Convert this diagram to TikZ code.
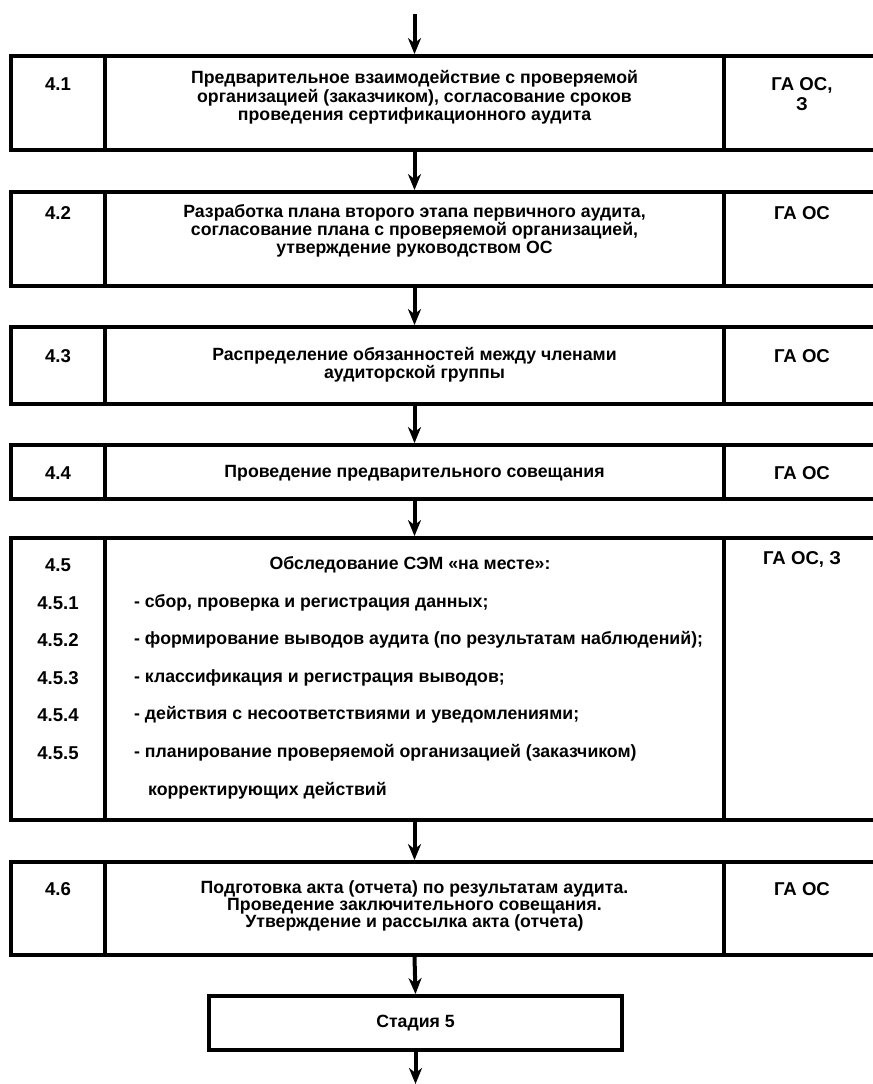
\documentclass[tikz,border=0pt]{standalone}
\usepackage{fontspec}
\setmainfont{Liberation Sans}
\usetikzlibrary{arrows.meta}
\begin{document}
\begin{tikzpicture}[x=1bp,y=-1bp,
  cell/.style={draw, line width=3.8bp, inner sep=0pt},
  txt/.style={inner sep=0pt, align=center, font=\fontsize{17.7bp}{#1}\selectfont\bfseries},
  txt/.default={18bp},
  lab/.style={inner sep=0pt, align=center, font=\fontsize{18.6bp}{#1}\selectfont\bfseries},
  lab/.default={18bp},
  arr/.style={line width=4bp, -{Stealth[length=16bp,width=13bp,inset=5bp]}}]
\useasboundingbox (0,0) rectangle (873,1084);
\clip (0,0) rectangle (873,1084);
% row 4.1
\node[cell, minimum width=94bp, minimum height=94bp] (n41) at (58,103) {};
\node[cell, minimum width=619bp, minimum height=94bp] (m41) at (414.5,103) {};
\node[cell, minimum width=166bp, minimum height=94bp] (r41) at (807,103) {};
% row 4.2
\node[cell, minimum width=94bp, minimum height=94bp] (n42) at (58,239) {};
\node[cell, minimum width=619bp, minimum height=94bp] (m42) at (414.5,239) {};
\node[cell, minimum width=166bp, minimum height=94bp] (r42) at (807,239) {};
% row 4.3
\node[cell, minimum width=94bp, minimum height=77bp] (n43) at (58,365.5) {};
\node[cell, minimum width=619bp, minimum height=77bp] (m43) at (414.5,365.5) {};
\node[cell, minimum width=166bp, minimum height=77bp] (r43) at (807,365.5) {};
% row 4.4
\node[cell, minimum width=94bp, minimum height=54bp] (n44) at (58,472) {};
\node[cell, minimum width=619bp, minimum height=54bp] (m44) at (414.5,472) {};
\node[cell, minimum width=166bp, minimum height=54bp] (r44) at (807,472) {};
% row 4.5
\node[cell, minimum width=94bp, minimum height=282bp] (n45) at (58,679) {};
\node[cell, minimum width=619bp, minimum height=282bp] (m45) at (414.5,679) {};
\node[cell, minimum width=166bp, minimum height=282bp] (r45) at (807,679) {};
% row 4.6
\node[cell, minimum width=94bp, minimum height=93bp] (n46) at (58,908.5) {};
\node[cell, minimum width=619bp, minimum height=93bp] (m46) at (414.5,908.5) {};
\node[cell, minimum width=166bp, minimum height=93bp] (r46) at (807,908.5) {};
% stage 5
\node[cell, minimum width=413bp, minimum height=54bp, txt] (st) at (415.5,1023) {Стадия 5};

% texts row 4.1
\node[lab] (tn41) at (58,84) {4.1};
\node[txt=18.5bp] (tm41) at (414.5,97.5) {Предварительное взаимодействие с проверяемой\\организацией (заказчиком), согласование сроков\\проведения сертификационного аудита};
\node[lab=20bp] (tr41) at (802,94) {ГА ОС,\\З};
% row 4.2
\node[lab] (tn42) at (58,213) {4.2};
\node[txt] (tm42) at (414.5,231) {Разработка плана второго этапа первичного аудита,\\согласование плана с проверяемой организацией,\\утверждение руководством ОС};
\node[lab] (tr42) at (802,213) {ГА ОС};
% row 4.3
\node[lab] (tn43) at (58,356) {4.3};
\node[txt] (tm43) at (414.5,365) {Распределение обязанностей между членами\\аудиторской группы};
\node[lab] (tr43) at (802,356) {ГА ОС};
% row 4.4
\node[lab] (tn44) at (58,473) {4.4};
\node[txt] (tm44) at (414.5,473) {Проведение предварительного совещания};
\node[lab] (tr44) at (802,473) {ГА ОС};
% row 4.5
\node[lab] (tn45) at (58,565) {4.5};
\node[txt] (tm45) at (410,565) {Обследование СЭМ «на месте»:};
\node[lab] (tr45) at (802,559) {ГА ОС, З};
\node[lab] (tn451) at (58,603) {4.5.1};
\node[lab] (tn452) at (58,640) {4.5.2};
\node[lab] (tn453) at (58,678) {4.5.3};
\node[lab] (tn454) at (58,715) {4.5.4};
\node[lab] (tn455) at (58,753) {4.5.5};
\node[txt, anchor=west] (ti1) at (134,603) {- сбор, проверка и регистрация данных;};
\node[txt, anchor=west] (ti2) at (134,640) {- формирование выводов аудита (по результатам наблюдений);};
\node[txt, anchor=west] (ti3) at (134,678) {- классификация и регистрация выводов;};
\node[txt, anchor=west] (ti4) at (134,715) {- действия с несоответствиями и уведомлениями;};
\node[txt, anchor=west] (ti5) at (134,753) {- планирование проверяемой организацией (заказчиком)};
\node[txt, anchor=west] (ti6) at (148,791) {корректирующих действий};
% row 4.6
\node[lab] (tn46) at (58,889) {4.6};
\node[txt=17bp] (tm46) at (414.5,906) {Подготовка акта (отчета) по результатам аудита.\\Проведение заключительного совещания.\\Утверждение и рассылка акта (отчета)};
\node[lab] (tr46) at (802,889) {ГА ОС};

% arrows
\coordinate (top) at (414.5,14);
\coordinate (bot) at (415.5,1084);
\draw[arr] (top) -- (m41.north);
\draw[arr] (m41.south) -- (m42.north);
\draw[arr] (m42.south) -- (m43.north);
\draw[arr] (m43.south) -- (m44.north);
\draw[arr] (m44.south) -- (m45.north);
\draw[arr] (m45.south) -- (m46.north);
\draw[arr] (m46.south) -- (st.north);
\draw[arr] (st.south) -- (bot);
\end{tikzpicture}
\end{document}
